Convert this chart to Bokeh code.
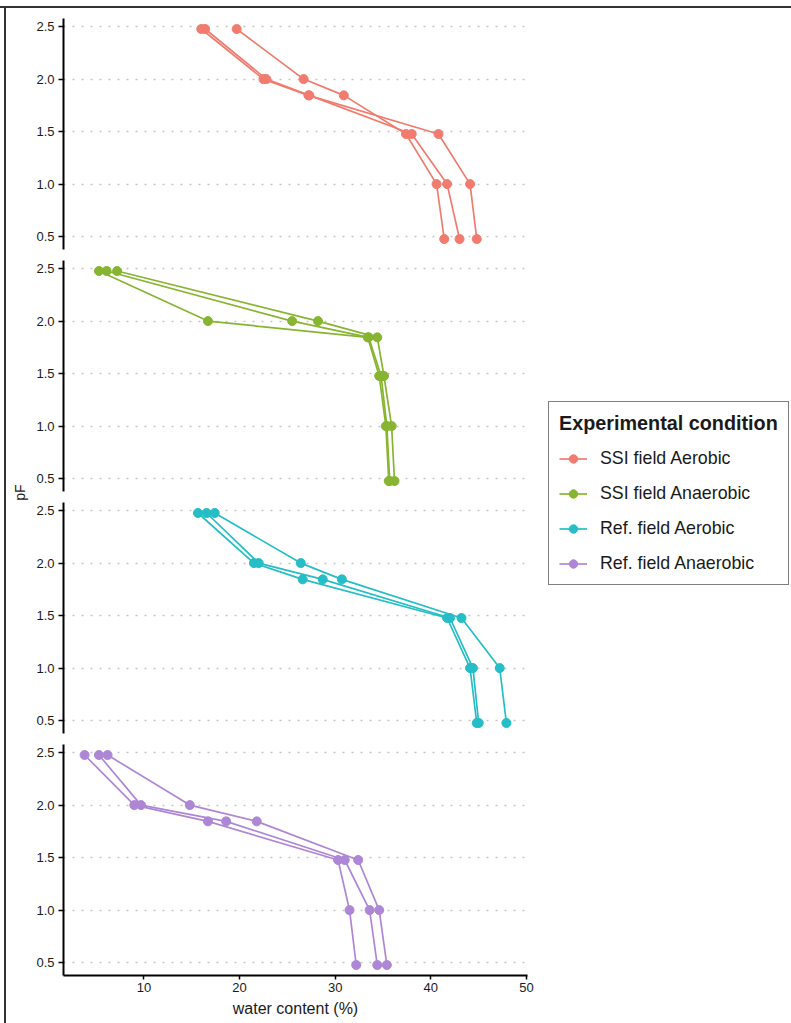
import numpy as np
from bokeh.plotting import figure
from bokeh.models import Range1d, FixedTicker, Legend, LegendItem, Label, Spacer
from bokeh.layouts import column, row
from bokeh.embed import file_html
from bokeh.resources import INLINE
from bokeh.core.properties import value

# pF = log10 of the suction in hPa (300, 100, 70, 30, 10, 3 hPa)
pf_levels = [2.477, 2.0, 1.845, 1.477, 1.0, 0.477]

# Water content (%) of three replicate cores per condition, ordered as pf_levels
ssi_aerobic = [
    [19.7, 26.7, 30.9, 37.4, 40.6, 41.4],
    [16.0, 22.5, 27.2, 40.8, 44.1, 44.8],
    [16.4, 22.8, 27.3, 38.0, 41.7, 43.0],
]
ssi_anaerobic = [
    [5.3, 16.7, 33.4, 34.6, 35.3, 35.6],
    [6.1, 25.5, 33.5, 34.8, 35.4, 35.7],
    [7.2, 28.2, 34.4, 35.1, 35.9, 36.2],
]
ref_aerobic = [
    [15.65, 21.5, 26.6, 41.7, 44.1, 44.8],
    [16.55, 22.0, 28.7, 42.0, 44.4, 45.0],
    [17.4, 26.4, 30.7, 43.2, 47.2, 47.9],
]
ref_anaerobic = [
    [3.8, 9.0, 16.7, 30.3, 31.5, 32.2],
    [5.3, 9.7, 18.6, 31.0, 33.6, 34.4],
    [6.2, 14.8, 21.8, 32.4, 34.6, 35.4],
]

conditions = ["SSI field Aerobic", "SSI field Anaerobic", "Ref. field Aerobic", "Ref. field Anaerobic"]
colors = ["#F17B6F", "#88B531", "#25BDC6", "#AE86D6"]
y_ticks = [0.5, 1.0, 1.5, 2.0, 2.5]
y_tick_labels = ["0.5", "1.0", "1.5", "2.0", "2.5"]
x_ticks = [10, 20, 30, 40, 50]
x_tick_labels = ["10", "20", "30", "40", "50"]
x_title = "water content (%)"
y_title = "pF"
legend_title = "Experimental condition"

FONT = "Liberation Sans"
TEXT = "#1a1a1a"
series = [ssi_aerobic, ssi_anaerobic, ref_aerobic, ref_anaerobic]

# shared scales with a 5 % expansion on each side
all_x = np.concatenate([np.ravel(s) for s in series])
xpad = 0.05 * (all_x.max() - all_x.min())
x_range = Range1d(all_x.min() - xpad, all_x.max() + xpad)
ypad = 0.05 * (max(pf_levels) - min(pf_levels))
y_lo, y_hi = min(pf_levels) - ypad, max(pf_levels) + ypad

FRAME_H = 231
PANEL_W = 510
BORDER_L = 33
BORDER_R = 13
STRIP_W = 24
BODY_H = 1015


def make_panel(reps, color, top, bottom, with_x):
    p = figure(width=PANEL_W, height=top + FRAME_H + bottom,
               x_range=x_range, y_range=Range1d(y_lo, y_hi),
               x_axis_location="below" if with_x else None,
               y_axis_location="left",
               output_backend="svg", toolbar_location=None,
               min_border_left=BORDER_L, min_border_right=BORDER_R,
               min_border_top=top, min_border_bottom=bottom)
    p.outline_line_color = None
    p.background_fill_color = "white"
    p.border_fill_color = "white"

    yt = FixedTicker(ticks=y_ticks)
    ax = p.yaxis[0]
    ax.ticker = yt
    ax.major_label_overrides = dict(zip(y_ticks, y_tick_labels))
    ax.axis_line_color = "black"
    ax.axis_line_width = 2
    ax.major_tick_line_color = "black"
    ax.major_tick_line_width = 1.5
    ax.major_tick_out = 5
    ax.major_tick_in = 0
    ax.minor_tick_line_color = None
    ax.major_label_standoff = 4
    ax.major_label_text_font = FONT
    ax.major_label_text_font_size = "13px"
    ax.major_label_text_color = TEXT

    p.xgrid.visible = False
    p.ygrid.ticker = yt
    p.ygrid.grid_line_color = "#c4c4c4"
    p.ygrid.grid_line_width = 1.4
    p.ygrid.grid_line_dash = "2 7"

    if with_x:
        xa = p.xaxis[0]
        xt = FixedTicker(ticks=x_ticks)
        xa.ticker = xt
        xa.major_label_overrides = dict(zip(x_ticks, x_tick_labels))
        xa.axis_line_color = "black"
        xa.axis_line_width = 2
        xa.major_tick_line_color = "black"
        xa.major_tick_line_width = 1.5
        xa.major_tick_out = 4
        xa.major_tick_in = 0
        xa.minor_tick_line_color = None
        xa.major_label_standoff = 3
        xa.major_label_text_font = FONT
        xa.major_label_text_font_size = "13px"
        xa.major_label_text_color = TEXT
        xa.axis_label = x_title
        xa.axis_label_standoff = 5
        xa.axis_label_text_font = FONT
        xa.axis_label_text_font_size = "16px"
        xa.axis_label_text_font_style = "normal"
        xa.axis_label_text_color = TEXT

    for rep in reps:
        p.line(x=rep, y=pf_levels, line_color=color, line_width=1.7)
        p.scatter(x=rep, y=pf_levels, size=9, fill_color=color, line_color=color)
    return p


p1 = make_panel(ssi_aerobic, colors[0], 10, 5, False)
p2 = make_panel(ssi_anaerobic, colors[1], 6, 7, False)
p3 = make_panel(ref_aerobic, colors[2], 4, 5, False)
p4 = make_panel(ref_anaerobic, colors[3], 6, 48, True)

# narrow strip holding the shared y-axis title
pstrip = figure(width=STRIP_W, height=BODY_H, x_range=Range1d(0, 1), y_range=Range1d(0, 1),
                x_axis_location=None, y_axis_location=None,
                output_backend="svg", toolbar_location=None, min_border=0)
pstrip.grid.visible = False
pstrip.outline_line_color = None
pstrip.add_layout(Label(x=13, y=531, x_units="screen", y_units="screen", text=y_title,
                        angle=np.pi / 2, text_align="center", text_baseline="middle",
                        text_font=FONT, text_font_size="14px", text_color=TEXT))

# legend canvas to the right of the panels; its proxy glyphs sit outside its (0, 1) view
pleg = figure(width=251, height=BODY_H, x_range=Range1d(0, 1), y_range=Range1d(0, 1),
              x_axis_location=None, y_axis_location=None,
              output_backend="svg", toolbar_location=None, min_border=0)
pleg.grid.visible = False
pleg.outline_line_color = None
items = []
for name, col, reps in zip(conditions, colors, series):
    lr = pleg.line(x=reps[0], y=pf_levels, line_color=col, line_width=1.7)
    sr = pleg.scatter(x=reps[0], y=pf_levels, size=8, fill_color=col, line_color=col)
    items.append(LegendItem(label=value(name), renderers=[lr, sr]))
legend = Legend(items=items, location=(8, 438), title=legend_title,
                padding=10, spacing=14, margin=0, glyph_width=28, glyph_height=21,
                label_height=21, label_standoff=13, title_standoff=13,
                border_line_color="black", border_line_width=1.2,
                background_fill_color="white", background_fill_alpha=1.0,
                label_text_font=FONT, label_text_font_size="17.8px", label_text_color=TEXT,
                title_text_font=FONT, title_text_font_size="19.8px",
                title_text_font_style="bold", title_text_color=TEXT)
pleg.add_layout(legend)

line_style = {"background-color": "#333333"}
page = column(
    Spacer(width=791, height=6),
    Spacer(width=791, height=2, styles=line_style),
    row(
        Spacer(width=4, height=BODY_H),
        Spacer(width=2, height=BODY_H, styles=line_style),
        pstrip,
        column(p1, p2, p3, p4),
        pleg,
    ),
)

open("out.html", "w").write(file_html(page, INLINE))
